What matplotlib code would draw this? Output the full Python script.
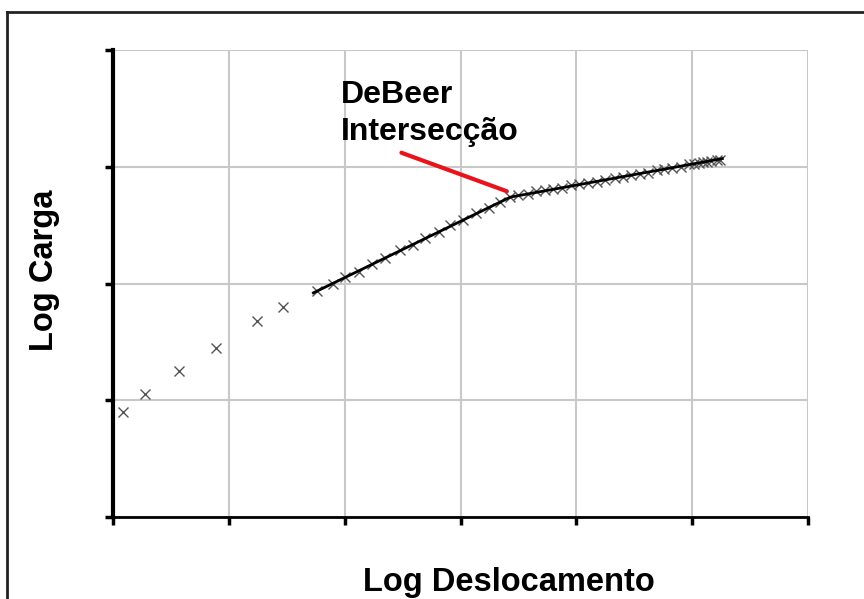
import matplotlib.pyplot as plt
from matplotlib.lines import Line2D

plt.rcParams['font.family'] = ['Liberation Sans', 'DejaVu Sans']

# measured points (log displacement, log load)
x_pts = [0.09, 0.28, 0.57, 0.89, 1.24, 1.47, 1.76, 1.90, 2.00, 2.12, 2.24, 2.35,
         2.48, 2.59, 2.69, 2.81, 2.91, 3.02, 3.13, 3.25, 3.34, 3.43, 3.50, 3.58,
         3.65, 3.73, 3.80, 3.88, 3.95, 4.02, 4.10, 4.18, 4.25, 4.33, 4.40, 4.47,
         4.55, 4.62, 4.70, 4.76, 4.83, 4.90, 4.97, 5.02, 5.06, 5.09, 5.13, 5.16,
         5.21, 5.24]
y_pts = [0.90, 1.05, 1.25, 1.45, 1.68, 1.80, 1.94, 2.00, 2.06, 2.10, 2.17, 2.22,
         2.29, 2.33, 2.39, 2.44, 2.50, 2.54, 2.60, 2.65, 2.70, 2.74, 2.76, 2.77,
         2.79, 2.80, 2.81, 2.82, 2.84, 2.85, 2.86, 2.87, 2.89, 2.90, 2.91, 2.93,
         2.94, 2.95, 2.97, 2.98, 2.99, 3.00, 3.02, 3.02, 3.03, 3.04, 3.04, 3.05,
         3.06, 3.06]

# two fitted straight lines, meeting at the DeBeer intersection
fit_x = [1.73, 3.43, 5.26]
fit_y = [1.92, 2.74, 3.07]

# red pointer to the intersection
ptr_x = [2.49, 3.40]
ptr_y = [3.12, 2.79]

fig = plt.figure(figsize=(8.64, 5.99), dpi=100)
ax = fig.add_axes([0.1308, 0.1369, 0.8044, 0.7796])

ax.plot(x_pts, y_pts, linestyle='none', marker='x', color='#555555',
        markersize=7.5, markeredgewidth=1.0, zorder=3)
ax.plot(fit_x, fit_y, color='black', linewidth=2.0, zorder=4)
ax.plot(ptr_x, ptr_y, color='#e8131b', linewidth=3.0, solid_capstyle='round', zorder=4)

ax.text(1.97, 3.74, 'DeBeer\nIntersecção', fontsize=23, fontweight='bold',
        va='top', ha='left', linespacing=1.3)

ax.set_xlim(0, 6)
ax.set_ylim(0, 4)
ax.set_xticks(range(7))
ax.set_yticks(range(5))
ax.set_xticklabels([])
ax.set_yticklabels([])
ax.grid(True, color='#c8c8c8', linewidth=1.5)
ax.set_axisbelow(True)
ax.tick_params(axis='both', direction='out', length=6, width=2.5, color='black')

for s in ['top', 'right']:
    ax.spines[s].set_visible(False)
ax.spines['left'].set_linewidth(3)
ax.spines['bottom'].set_linewidth(2)

# axis titles placed where the original has them
fig.text(509 / 864, 1 - 582 / 599, 'Log Deslocamento', fontsize=23.5,
         fontweight='bold', ha='center', va='center')
fig.text(45 / 864, 1 - 270 / 599, 'Log Carga', fontsize=23.5,
         fontweight='bold', ha='center', va='center', rotation=90)

# outer frame of the original picture
top = 1 - 12 / 599
left = 7 / 864
fig.add_artist(Line2D([left, 1.01], [top, top], color='#222222', linewidth=2))
fig.add_artist(Line2D([left, left], [-0.01, top], color='#222222', linewidth=2))

fig.savefig('out.png', dpi=100)
